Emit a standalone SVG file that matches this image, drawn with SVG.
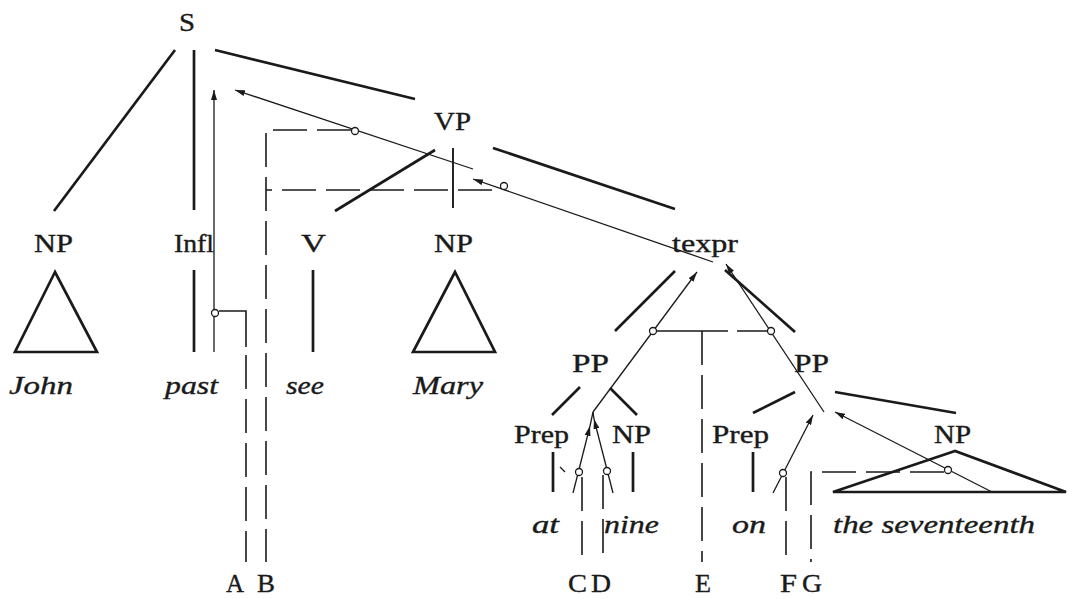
<svg xmlns="http://www.w3.org/2000/svg" width="1068" height="599" viewBox="0 0 1068 599">
<defs>
<marker id="ah" viewBox="0 0 10 6" refX="10" refY="3" markerWidth="10" markerHeight="6" markerUnits="userSpaceOnUse" orient="auto">
<path d="M0,0 L10,3 L0,6 Z" fill="#1a1a1a"/>
</marker>
</defs>
<style>
.lbl{font-family:"Liberation Serif","Times New Roman",serif;font-size:25px;fill:#1a1a1a;stroke:#1a1a1a;stroke-width:0.35}
.it{font-family:"Liberation Serif","Times New Roman",serif;font-size:25px;font-style:italic;fill:#1a1a1a;stroke:#1a1a1a;stroke-width:0.35}
.thick{stroke:#1a1a1a;stroke-width:2.7;fill:none;stroke-linecap:butt}
.med{stroke:#1a1a1a;stroke-width:1.9;fill:none}
.thin{stroke:#1a1a1a;stroke-width:1.3;fill:none}
.dash{stroke:#1a1a1a;stroke-width:1.6;fill:none;stroke-dasharray:34 10}
.sol{stroke:#1a1a1a;stroke-width:1.6;fill:none}
.arr{stroke:#1a1a1a;stroke-width:1.3;fill:none;marker-end:url(#ah)}
.tri{stroke:#1a1a1a;stroke-width:2.7;fill:none;stroke-linejoin:miter}
.dot{stroke:#1a1a1a;stroke-width:1.3;fill:#fff}
</style>
<rect width="1068" height="599" fill="#fff"/>

<g id="connectors">
<!-- tree edges -->
<line class="thick" x1="175" y1="50" x2="54" y2="211"/>
<line class="thick" x1="194" y1="50" x2="194" y2="210"/>
<line class="thick" x1="215" y1="50" x2="415" y2="99"/>
<line class="thick" x1="194" y1="270" x2="194" y2="352"/>
<line class="thick" x1="313" y1="270" x2="313" y2="352"/>
<line class="thick" x1="435" y1="150" x2="335" y2="211"/>
<line class="med" x1="453" y1="148" x2="453" y2="208"/>
<line class="thick" x1="493" y1="148" x2="675" y2="209"/>
<line class="thick" x1="675" y1="271" x2="615" y2="331"/>
<line class="thick" x1="725" y1="270" x2="795" y2="332"/>
<line class="thick" x1="580" y1="387" x2="552" y2="415"/>
<line class="thick" x1="610" y1="388" x2="637" y2="415"/>
<line class="thick" x1="795" y1="392" x2="753" y2="413"/>
<line class="thick" x1="835" y1="392" x2="956" y2="413"/>
<line class="thick" x1="553" y1="452" x2="553" y2="492"/>
<line class="thick" x1="633" y1="452" x2="633" y2="492"/>
<line class="thick" x1="753" y1="452" x2="753" y2="492"/>
<line class="thin" x1="560" y1="467" x2="565" y2="472" stroke-width="0.9"/>

<!-- dashed index lines -->
<path class="sol" d="M219,311 H246 V347"/>
<path class="dash" d="M246,355 V562"/>
<path class="dash" d="M351,130 H266 V562"/>
<path class="dash" d="M492,190 H266" stroke-dasharray="38 11"/>
<path class="sol" d="M657,331 H728 M737,331 H767"/>
<path class="dash" d="M702,331 V562"/>
<path class="dash" d="M582,477 V562"/>
<path class="dash" d="M603,475 V562"/>
<path class="dash" d="M786,477 V562"/>
<path class="dash" d="M944,472 H811 V562"/>

<!-- arrows -->
<line class="arr" x1="214" y1="352" x2="214" y2="90"/>
<line class="arr" x1="473" y1="169" x2="235" y2="90"/>
<line class="arr" x1="713" y1="262" x2="473" y2="179"/>
<line class="arr" x1="593" y1="412" x2="697" y2="272"/>
<line class="arr" x1="824" y1="412" x2="726" y2="264"/>
<line class="arr" x1="573" y1="493" x2="590" y2="426"/>
<line class="thin" x1="590" y1="426" x2="593" y2="412"/>
<line class="arr" x1="613" y1="493" x2="594" y2="419"/>
<line class="thin" x1="594" y1="419" x2="593" y2="412"/>
<line class="arr" x1="773" y1="493" x2="813" y2="415"/>
<line class="arr" x1="992" y1="492" x2="835" y2="412"/>

<!-- index circles -->
<circle class="dot" cx="215" cy="313" r="3.5"/>
<circle class="dot" cx="355" cy="131" r="3.5"/>
<circle class="dot" cx="504" cy="186" r="3.5"/>
<circle class="dot" cx="653" cy="331" r="3.5"/>
<circle class="dot" cx="771" cy="331" r="3.5"/>
<circle class="dot" cx="579" cy="472" r="3.5"/>
<circle class="dot" cx="607" cy="471" r="3.5"/>
<circle class="dot" cx="783" cy="473" r="3.5"/>
<circle class="dot" cx="948" cy="470" r="3.5"/>
</g>

<g id="node-S"><text class="lbl" x="179" y="31" textLength="16" lengthAdjust="spacingAndGlyphs">S</text></g>
<g id="node-VP"><text class="lbl" x="434" y="130" textLength="37" lengthAdjust="spacingAndGlyphs">VP</text></g>
<g id="node-NP-subj">
<text class="lbl" x="34" y="252" textLength="39" lengthAdjust="spacingAndGlyphs">NP</text>
<polygon class="tri" points="55,272 15,352 97,352"/>
<text class="it" x="9" y="394" textLength="64" lengthAdjust="spacingAndGlyphs">John</text>
</g>
<g id="node-Infl">
<text class="lbl" x="174" y="252" textLength="40" lengthAdjust="spacingAndGlyphs">Infl</text>
<text class="it" x="165" y="394" textLength="53" lengthAdjust="spacingAndGlyphs">past</text>
</g>
<g id="node-V">
<text class="lbl" x="301" y="252" textLength="25" lengthAdjust="spacingAndGlyphs">V</text>
<text class="it" x="286" y="394" textLength="38" lengthAdjust="spacingAndGlyphs">see</text>
</g>
<g id="node-NP-obj">
<text class="lbl" x="434" y="252" textLength="39" lengthAdjust="spacingAndGlyphs">NP</text>
<polygon class="tri" points="455,272 413,352 495,352"/>
<text class="it" x="413" y="394" textLength="70" lengthAdjust="spacingAndGlyphs">Mary</text>
</g>
<g id="node-texpr"><text class="lbl" x="672" y="252" textLength="66" lengthAdjust="spacingAndGlyphs">texpr</text></g>
<g id="node-PP1"><text class="lbl" x="572" y="372" textLength="37" lengthAdjust="spacingAndGlyphs">PP</text></g>
<g id="node-PP2"><text class="lbl" x="794" y="372" textLength="35" lengthAdjust="spacingAndGlyphs">PP</text></g>
<g id="node-Prep1">
<text class="lbl" x="514" y="443" textLength="55" lengthAdjust="spacingAndGlyphs">Prep</text>
<text class="it" x="532" y="533" textLength="27" lengthAdjust="spacingAndGlyphs">at</text>
</g>
<g id="node-NP-nine">
<text class="lbl" x="612" y="443" textLength="39" lengthAdjust="spacingAndGlyphs">NP</text>
<text class="it" x="604" y="533" textLength="55" lengthAdjust="spacingAndGlyphs">nine</text>
</g>
<g id="node-Prep2">
<text class="lbl" x="712" y="443" textLength="57" lengthAdjust="spacingAndGlyphs">Prep</text>
<text class="it" x="732" y="533" textLength="34" lengthAdjust="spacingAndGlyphs">on</text>
</g>
<g id="node-NP-17">
<text class="lbl" x="934" y="443" textLength="37" lengthAdjust="spacingAndGlyphs">NP</text>
<polygon class="tri" points="955,451 833,492 1066,492"/>
<text class="it" x="833" y="533" textLength="202" lengthAdjust="spacingAndGlyphs">the seventeenth</text>
</g>
<g id="index-labels">
<text class="lbl" x="226" y="592" textLength="18" lengthAdjust="spacingAndGlyphs">A</text>
<text class="lbl" x="257" y="592" textLength="18" lengthAdjust="spacingAndGlyphs">B</text>
<text class="lbl" x="568" y="592" textLength="19" lengthAdjust="spacingAndGlyphs">C</text>
<text class="lbl" x="591" y="592" textLength="20" lengthAdjust="spacingAndGlyphs">D</text>
<text class="lbl" x="695" y="592" textLength="16" lengthAdjust="spacingAndGlyphs">E</text>
<text class="lbl" x="780" y="592" textLength="17" lengthAdjust="spacingAndGlyphs">F</text>
<text class="lbl" x="802" y="592" textLength="20" lengthAdjust="spacingAndGlyphs">G</text>
</g>
</svg>
